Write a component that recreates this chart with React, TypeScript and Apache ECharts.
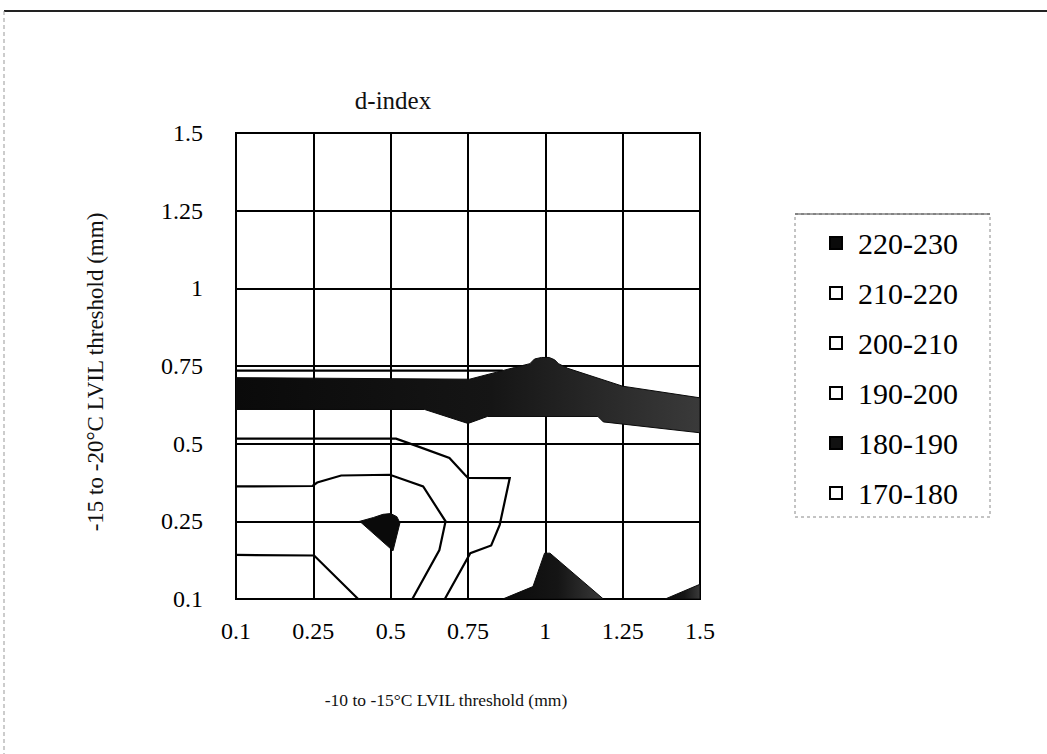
import React, { useEffect, useRef } from 'react';
import * as echarts from 'echarts';

// Axis tick labels (categories, equally spaced)
const X_LABELS = ['0.1', '0.25', '0.5', '0.75', '1', '1.25', '1.5'];
const Y_LABELS = ['0.1', '0.25', '0.5', '0.75', '1', '1.25', '1.5'];

// Contour bands (legend order)
const BANDS = ['220-230', '210-220', '200-210', '190-200', '180-190', '170-180'];

// Contour geometry, in category-index units
// (x: 0..6 along the -10 to -15°C axis, y: 0..6 along the -15 to -20°C axis)
const AREA_220_230: number[][][] = [
  [[1.6, 1.0], [1.78, 1.05], [1.9, 1.09], [2.0, 1.1], [2.08, 1.06], [2.12, 0.98], [2.03, 0.62]],
];
const AREA_180_190: number[][][] = [
  [
    [0, 2.85], [3.02, 2.83], [3.6, 2.98], [3.8, 3.03], [3.86, 3.09], [3.95, 3.11], [4.05, 3.11],
    [4.12, 3.08], [4.17, 3.03], [4.29, 2.97], [5.0, 2.74], [6, 2.59],
    [6, 2.14], [4.75, 2.28], [4.68, 2.35], [3.25, 2.35], [3.0, 2.26], [2.44, 2.44], [0, 2.44],
  ],
  [[3.45, 0], [3.84, 0.16], [3.99, 0.59], [4.06, 0.59], [4.75, 0]],
  [[5.55, 0], [6, 0.19], [6, 0]],
];
const EDGE_210: number[][][] = [
  [[0, 1.45], [0.99, 1.455], [1.05, 1.5], [1.36, 1.59], [1.99, 1.6], [2.42, 1.45], [2.71, 1.0], [2.63, 0.63], [2.28, 0]],
  [[0, 0.568], [1.01, 0.56], [1.58, 0]],
];
const EDGE_200: number[][][] = [
  [[0, 2.065], [2.07, 2.065], [2.35, 1.965], [2.76, 1.815], [2.96, 1.6], [3.0, 1.56], [3.54, 1.557], [3.41, 0.955], [3.3, 0.69], [3.03, 0.59], [2.7, 0]],
];
const EDGE_180: number[][][] = [
  [[0, 2.94], [3.45, 2.94]],
];

const SERIF = "'Liberation Serif', 'Times New Roman', 'DejaVu Serif', serif";

function shapeSeries(name: string, shapes: number[][][], closed: boolean, fill: any, legendColor: string, z: number) {
  return {
    type: 'custom',
    name,
    coordinateSystem: 'cartesian2d',
    clip: true,
    silent: true,
    z,
    itemStyle: { color: legendColor, borderColor: '#000', borderWidth: 1.5 },
    data: shapes.map((_, k) => [0, 0, k]),
    renderItem: (params: any, api: any) => {
      const pts = shapes[params.dataIndex].map((p) => api.coord(p));
      if (closed) {
        return {
          type: 'polygon',
          shape: { points: pts },
          style: { fill, stroke: '#0a0a0a', lineWidth: 1 },
        };
      }
      return {
        type: 'polyline',
        shape: { points: pts },
        style: { fill: 'none', stroke: '#000', lineWidth: 2.2 },
      };
    },
  };
}

export default function App() {
  const ref = useRef<HTMLDivElement>(null);

  useEffect(() => {
    if (!ref.current) return;
    const chart = echarts.init(ref.current, undefined, { renderer: 'svg' });

    const bandFill = new echarts.graphic.LinearGradient(0, 0, 1, 0, [
      { offset: 0, color: '#0a0a0a' },
      { offset: 0.55, color: '#151515' },
      { offset: 1, color: '#3a3a3a' },
    ]);

    const axisCommon = {
      type: 'value',
      min: 0,
      max: 6,
      interval: 1,
      axisLine: { show: true, lineStyle: { color: '#000', width: 2 } },
      axisTick: { show: false },
      splitLine: { show: true, lineStyle: { color: '#000', width: 2 } },
    };

    chart.setOption({
      animation: false,
      backgroundColor: '#ffffff',
      grid: {
        left: 236,
        top: 133,
        width: 464,
        height: 466,
        show: true,
        borderColor: '#000',
        borderWidth: 2,
        backgroundColor: '#fff',
      },
      xAxis: {
        ...axisCommon,
        axisLabel: {
          formatter: (v: number) => X_LABELS[Math.round(v)] ?? '',
          fontFamily: SERIF,
          fontSize: 24,
          color: '#000',
          margin: 20,
        },
      },
      yAxis: {
        ...axisCommon,
        axisLabel: {
          formatter: (v: number) => Y_LABELS[Math.round(v)] ?? '',
          fontFamily: SERIF,
          fontSize: 24,
          color: '#000',
          margin: 33,
        },
      },
      legend: {
        data: BANDS,
        orient: 'vertical',
        left: 829,
        top: 228,
        padding: 0,
        itemWidth: 12,
        itemHeight: 12,
        itemGap: 20,
        icon: 'rect',
        selectedMode: false,
        textStyle: { fontFamily: SERIF, fontSize: 30, color: '#000', padding: [0, 0, 0, 11] },
      },
      series: [
        shapeSeries(BANDS[0], AREA_220_230, true, '#0a0a0a', '#0a0a0a', 5),
        shapeSeries(BANDS[1], EDGE_210, false, 'none', '#ffffff', 3),
        shapeSeries(BANDS[2], EDGE_200, false, 'none', '#ffffff', 3),
        shapeSeries(BANDS[3], [], false, 'none', '#ffffff', 3),
        shapeSeries(BANDS[4], AREA_180_190, true, bandFill, '#111111', 4),
        shapeSeries(BANDS[5], EDGE_180, false, 'none', '#ffffff', 3),
      ],
      graphic: [
        { type: 'line', shape: { x1: 4, y1: 11, x2: 1047, y2: 11 }, style: { stroke: '#222', lineWidth: 2 } },
        { type: 'line', shape: { x1: 4, y1: 11, x2: 4, y2: 754 }, style: { stroke: '#999', lineWidth: 1, lineDash: [4, 3] } },
        { type: 'rect', shape: { x: 795, y: 214, width: 195, height: 303 }, style: { fill: 'none', stroke: '#888', lineWidth: 1, lineDash: [3, 3] } },
        { type: 'line', shape: { x1: 795, y1: 214, x2: 990, y2: 214 }, style: { stroke: '#444', lineWidth: 1 } },
        {
          type: 'text', x: 393, y: 100,
          style: { text: 'd-index', fontFamily: SERIF, fontSize: 25, fill: '#111', align: 'center', verticalAlign: 'middle' },
        },
        {
          type: 'text', x: 95, y: 372, rotation: Math.PI / 2,
          style: { text: '-15 to -20°C LVIL threshold (mm)', fontFamily: SERIF, fontSize: 23, fill: '#111', align: 'center', verticalAlign: 'middle' },
        },
        {
          type: 'text', x: 446, y: 700,
          style: { text: '-10 to -15°C LVIL threshold (mm)', fontFamily: SERIF, fontSize: 17.5, fill: '#111', align: 'center', verticalAlign: 'middle' },
        },
      ],
    });

    return () => chart.dispose();
  }, []);

  return (
    <div
      ref={ref}
      style={{ position: 'fixed', left: 0, top: 0, width: 1047, height: 754, background: '#fff' }}
    />
  );
}
